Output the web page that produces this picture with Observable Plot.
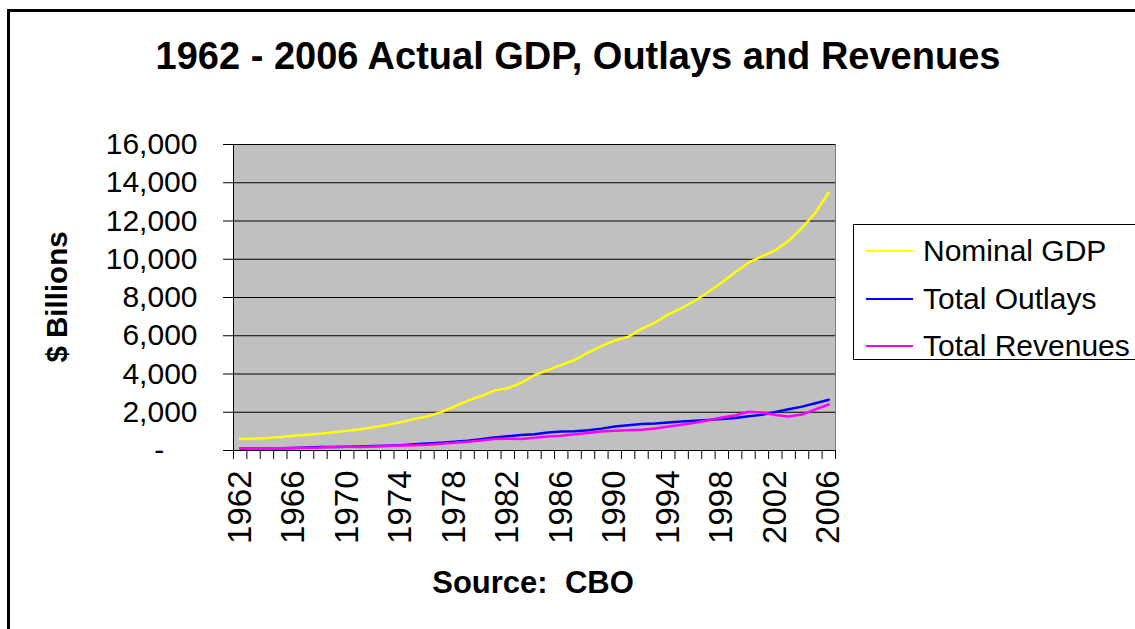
<!DOCTYPE html>
<html><head><meta charset="utf-8">
<script src="https://cdn.jsdelivr.net/npm/d3@7"></script>
<script src="https://cdn.jsdelivr.net/npm/@observablehq/plot@0.6"></script>
<style>
body{margin:0;background:#fff;}
#wrap{position:relative;width:1135px;height:629px;overflow:hidden;font-family:"Liberation Sans",Arial,sans-serif;color:#000;background:#fff;}
#outer{position:absolute;left:7px;top:9px;width:1300px;height:800px;border-left:3px solid #000;border-top:3px solid #000;}
#chart{position:absolute;left:0;top:0;}
#title{position:absolute;left:0;width:1156px;top:35px;text-align:center;font-weight:bold;font-size:38px;line-height:42px;white-space:nowrap;}
#ylab{position:absolute;left:57px;top:297px;transform:translate(-50%,-50%) rotate(-90deg);font-weight:bold;font-size:29.5px;white-space:nowrap;}
#src{position:absolute;left:533px;top:583px;transform:translate(-50%,-50%);font-weight:bold;font-size:31px;white-space:nowrap;}
#legend{position:absolute;left:853px;top:224px;width:290px;height:134px;border:1px solid #000;background:#fff;}
.row{position:absolute;left:12px;height:40px;display:flex;align-items:center;font-size:30px;white-space:nowrap;}
.sw{width:47px;height:2px;margin-right:10px;}
</style>
</head><body>
<div id="wrap">
  <div id="outer"></div>
  <div id="chart"></div>
  <div id="title">1962 - 2006 Actual GDP, Outlays and Revenues</div>
  <div id="ylab">$ Billions</div>
  <div id="src">Source:&nbsp; CBO</div>
  <div id="legend"></div>
</div>
<script>
const years = [1962,1963,1964,1965,1966,1967,1968,1969,1970,1971,1972,1973,1974,1975,1976,1977,1978,1979,1980,1981,1982,1983,1984,1985,1986,1987,1988,1989,1990,1991,1992,1993,1994,1995,1996,1997,1998,1999,2000,2001,2002,2003,2004,2005,2006];
const gdp = [600,620,650,700,770,820,880,950,1030,1110,1220,1340,1480,1640,1790,2000,2300,2600,2840,3130,3260,3530,3950,4200,4480,4730,5120,5460,5750,5940,6360,6690,7120,7450,7830,8290,8790,9320,9820,10150,10470,10960,11640,12440,13490];
const outlays = [107,111,119,118,135,158,178,184,196,210,231,246,269,332,372,409,459,504,591,678,746,808,852,946,990,1004,1064,1144,1253,1324,1382,1409,1462,1516,1561,1601,1653,1702,1789,1863,2011,2160,2293,2472,2655];
const revenues = [100,107,113,117,131,149,153,187,193,187,207,231,263,279,298,356,400,463,517,599,618,601,666,734,769,854,909,991,1032,1055,1091,1154,1259,1352,1453,1579,1722,1828,2025,1991,1853,1782,1880,2154,2407];
const seriesNames = ["Nominal GDP","Total Outlays","Total Revenues"];
const seriesColors = ["#ffff00","#0000ff","#ff00ff"];
const yTicks = [0,2000,4000,6000,8000,10000,12000,14000,16000];
const xLabelYears = [1962,1966,1970,1974,1978,1982,1986,1990,1994,1998,2002,2006];

const seriesValues = [gdp, outlays, revenues];
const data = [];
seriesNames.forEach((s, k) => years.forEach((y, i) => data.push({year: y, series: s, value: seriesValues[k][i]})));
const boundaries = years.map(y => y - 0.5).concat([years[years.length - 1] + 0.5]);
const fmt = d3.format(",");

const chart = Plot.plot({
  width: 1135, height: 629,
  marginLeft: 233, marginRight: 300, marginTop: 144, marginBottom: 179,
  x: {domain: [boundaries[0], boundaries[boundaries.length - 1]]},
  y: {domain: [0, 16000]},
  color: {domain: seriesNames, range: seriesColors},
  style: {fontFamily: '"Liberation Sans", Arial, sans-serif', fontSize: "30px", color: "#000", background: "transparent"},
  marks: [
    Plot.frame({fill: "#c0c0c0", stroke: "#808080"}),
    Plot.gridY(yTicks.filter(v => v > 0), {stroke: "#000", strokeOpacity: 1, strokeWidth: 1}),
    Plot.line(data, {x: "year", y: "value", z: "series", stroke: "series", strokeWidth: 2.5}),
    Plot.ruleX([boundaries[0]], {stroke: "#000"}),
    Plot.ruleY([0], {stroke: "#000"}),
    Plot.axisY({ticks: yTicks, tickSize: 10, tickPadding: 26, tickFormat: v => v === 0 ? "-\u2007\u2007" : fmt(v), label: null, fontSize: 30, stroke: "#000"}),
    Plot.axisX({ticks: boundaries, tickSize: 9, tickFormat: () => "", label: null, stroke: "#000"}),
    Plot.axisX({ticks: xLabelYears, tickSize: 0, tickPadding: 20, tickRotate: -90, tickFormat: d => String(d), label: null, fontSize: 33})
  ]
});
document.getElementById("chart").appendChild(chart);

const legend = document.getElementById("legend");
seriesNames.forEach((s, k) => {
  const row = document.createElement("div");
  row.className = "row";
  row.style.top = (6 + k * 47.5) + "px";
  const sw = document.createElement("div");
  sw.className = "sw";
  sw.style.background = seriesColors[k];
  const t = document.createElement("span");
  t.textContent = s;
  row.appendChild(sw); row.appendChild(t);
  legend.appendChild(row);
});
</script>
</body></html>
